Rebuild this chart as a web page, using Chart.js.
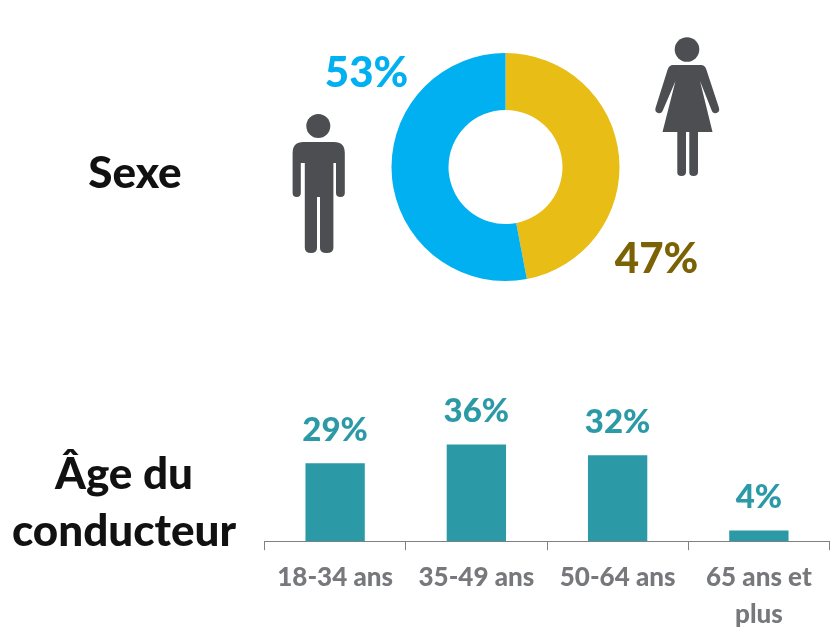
<!DOCTYPE html>
<html lang="fr"><head><meta charset="utf-8">
<script src="https://cdn.jsdelivr.net/npm/chart.js@4"></script>
<style>
html,body{margin:0;padding:0;background:#fff;width:834px;height:635px;overflow:hidden}
#top{position:absolute;left:0;top:0;width:834px;height:330px}
#bot{position:absolute;left:0;top:380px;width:834px;height:255px}
svg{position:absolute;left:0;top:0}
.h{position:absolute;font:900 44px Lato,sans-serif;color:#111;text-align:center;white-space:nowrap}
</style></head><body>
<div id="top"><canvas id="c1" width="834" height="330"></canvas></div>
<div id="bot"><canvas id="c2" width="834" height="262"></canvas></div>
<svg width="834" height="340" fill="#4d4e52">
<circle cx="318.3" cy="126" r="12"/>
<path d="M292.6 153Q292.6 142 303.5 142H334Q344.8 142 344.8 153V193Q344.8 197 340.4 197T336 193V163H333.4V248Q333.4 253 326.6 253T320 248V197H317V248Q317 253 311 253T304.8 248V163H300.8V193Q300.8 197 296.7 197T292.6 193Z"/>
<circle cx="687" cy="49.5" r="12.3"/>
<path d="M673 65H701Q705 65 706.5 70L719 108Q720 112 716.5 113T711.5 110L700 81 712.5 132H698V172Q698 176 693.5 176T689.3 172V132H686V172Q686 176 681.5 176T677.3 172V132H662.5L675.5 81 663 110Q661.5 114 658 113T655.5 108L667.5 70Q669 65 673 65Z"/>
</svg>
<div class="h" style="left:35px;width:200px;top:145px">Sexe</div>
<div class="h" style="left:0;width:248px;top:446px">Âge du</div>
<div class="h" style="left:0;width:248px;top:503px">conducteur</div>
<script>
const sexLabels=['Femmes','Hommes'];
const sexValues=[47,53];
const sexColors=['#e8bd15','#00b0f0'];
const sexTextColors=['#7a6205','#00b0f0'];
const ageLabels=['18-34 ans','35-49 ans','50-64 ans',['65 ans et','plus']];
const ageValues=[29,36,32,4];
const barColor='#2b9aa6';

const doughnutLabels={id:'doughnutLabels',afterDraw(ch){
  const c=ch.ctx,a=ch.getDatasetMeta(0).data[0];
  const off=[[151,92],[-139,-94]];
  c.save();c.font='900 42px Lato, sans-serif';c.textAlign='center';c.textBaseline='middle';
  sexValues.forEach((v,i)=>{c.fillStyle=sexTextColors[i];c.fillText(v+'%',a.x+off[i][0],a.y+off[i][1]);});
  c.restore();
}};
new Chart(document.getElementById('c1'),{type:'doughnut',
 data:{labels:sexLabels,datasets:[{data:sexValues,backgroundColor:sexColors,borderWidth:0}]},
 options:{responsive:false,animation:false,cutout:'50%',
  layout:{padding:{left:391.5,right:214.5,top:53,bottom:49}},
  plugins:{legend:{display:false},tooltip:{enabled:false}}},
 plugins:[doughnutLabels]});

const barLabels={id:'barLabels',afterDatasetsDraw(ch){
  const c=ch.ctx;
  c.save();c.font='900 33px Lato, sans-serif';c.fillStyle=barColor;c.textAlign='center';c.textBaseline='alphabetic';
  ch.getDatasetMeta(0).data.forEach((b,i)=>c.fillText(ageValues[i]+'%',b.x,b.y-22.5));
  c.restore();
}};
new Chart(document.getElementById('c2'),{type:'bar',
 data:{labels:ageLabels,datasets:[{data:ageValues,backgroundColor:barColor,barPercentage:0.42,categoryPercentage:1}]},
 options:{responsive:false,animation:false,
  layout:{padding:{left:264.5,right:4.5,top:0,bottom:0}},
  scales:{
   y:{display:false,min:0,max:60},
   x:{offset:true,
      grid:{display:true,drawOnChartArea:false,drawTicks:true,tickLength:9,color:'#808080',lineWidth:1},
      border:{display:true,color:'#808080',width:1},
      ticks:{color:'#77787b',font:{family:'Lato, sans-serif',size:26,weight:'900',lineHeight:1.42},padding:9,maxRotation:0,autoSkip:false}}
  },
  plugins:{legend:{display:false},tooltip:{enabled:false}}},
 plugins:[barLabels]});
</script>
</body></html>
